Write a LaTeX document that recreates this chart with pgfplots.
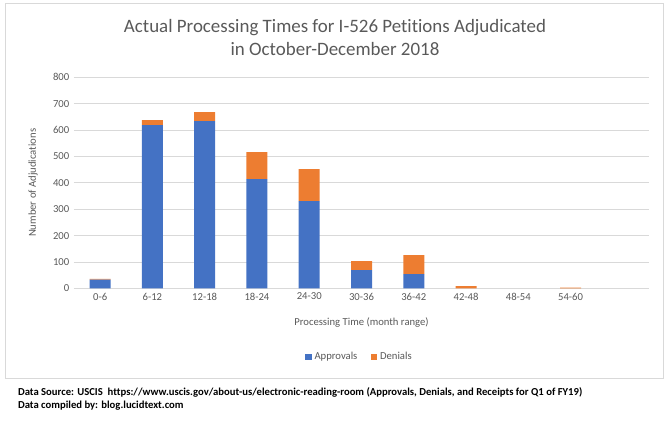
\documentclass[border=0pt]{standalone}
\usepackage{pgfplots}
\pgfplotsset{compat=1.18}
\usepackage{fontspec}
\setmainfont{Carlito}[RawFeature=-liga]
\definecolor{appr}{HTML}{4472C4}
\definecolor{deni}{HTML}{ED7D31}
\definecolor{txt}{HTML}{595959}
\definecolor{grd}{HTML}{D9D9D9}
\begin{document}
\begin{tikzpicture}
\useasboundingbox (-55.5pt,-102.5pt) rectangle (447pt,216.25pt);
\draw[grd] (-51.75pt,-67.3pt) rectangle (441.75pt,214pt);
\begin{axis}[
    at={(0pt,0pt)}, anchor=south west,
    scale only axis,
    width=431.25pt, height=158.25pt,
    ybar stacked,
    bar width=15.75pt,
    xmin=-0.5, xmax=10.5,
    ymin=0, ymax=800,
    xtick={0,...,9},
    xticklabels={0-6,6-12,12-18,18-24,24-30,30-36,36-42,42-48,48-54,54-60},
    ytick={0,100,...,800},
    ymajorgrids,
    grid style={grd, line width=0.6pt},
    axis x line*=bottom,
    axis y line*=left,
    x axis line style={grd, line width=0.6pt, -},
    y axis line style={draw=none},
    major tick length=0pt,
    tick label style={font=\fontsize{8}{9}\selectfont, text=txt},
    /pgf/number format/assume math mode=true,
    ylabel={Number of Adjudications},
    ylabel style={font=\fontsize{8}{9}\selectfont, text=txt,
        at={(axis description cs:-0.0713,0.5)}, anchor=center},
    xlabel={Processing Time (month range)},
    xlabel style={font=\fontsize{8}{9}\selectfont, text=txt,
        at={(axis description cs:0.5,-0.164)}, anchor=center},
    legend style={at={(axis description cs:0.497,-0.325)}, anchor=center, draw=none,
        legend columns=2, font=\fontsize{8}{9}\selectfont, text=txt,
        /tikz/every even column/.append style={column sep=8pt}},
    legend image code/.code={\fill[#1] (0pt,-2.5pt) rectangle (5pt,2.5pt);},
    legend cell align=left,
    clip=false,
]
\addplot[fill=appr, draw=none] coordinates {
    (0,33) (1,619) (2,634) (3,414) (4,331) (5,69) (6,54) (7,0) (8,0) (9,0)
};
\addplot[fill=deni, draw=none] coordinates {
    (0,3) (1,19) (2,34) (3,102) (4,121) (5,34) (6,72) (7,8) (8,0) (9,3)
};
\legend{Approvals,Denials}
\end{axis}
\node[font=\fontsize{14.2}{17.5}\selectfont, text=txt, align=center] at (195.75pt,188pt)
    {Actual Processing Times for I-526 Petitions Adjudicated\\in October-December 2018};
\node[font=\bfseries\fontsize{8}{9}\selectfont, anchor=west, align=left] at (-45.5pt,-77.8pt)
    {Data Source: USCIS\ \ https://www.uscis.gov/about-us/electronic-reading-room (Approvals, Denials, and Receipts for Q1 of FY19)};
\node[font=\bfseries\fontsize{8}{9}\selectfont, anchor=west, align=left] at (-45.5pt,-88.3pt)
    {Data compiled by: blog.lucidtext.com};
\end{tikzpicture}
\end{document}
